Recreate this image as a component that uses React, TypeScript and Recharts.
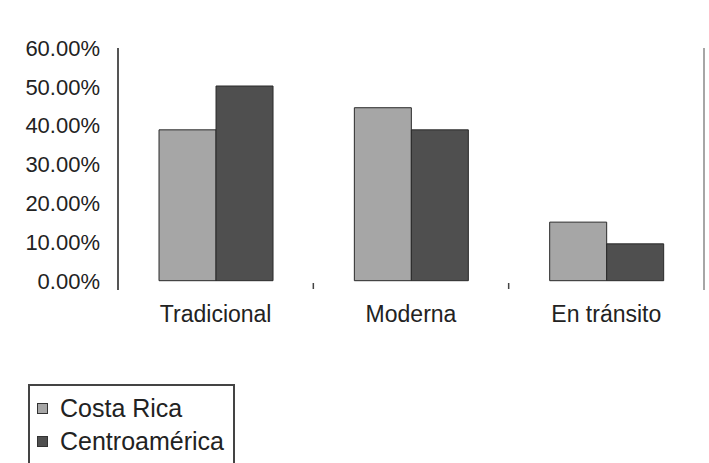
import { BarChart, Bar, XAxis, YAxis } from 'recharts';

// Shares by type of household
const categories = ['Tradicional', 'Moderna', 'En tránsito'];
const costaRica = [0.389, 0.446, 0.151];
const centroamerica = [0.502, 0.389, 0.095];
const yTicks = [0, 0.1, 0.2, 0.3, 0.4, 0.5, 0.6];

const series = [
  { key: 'costaRica', name: 'Costa Rica', color: '#a6a6a6' },
  { key: 'centroamerica', name: 'Centroamérica', color: '#4f4f4f' },
];

const data = categories.map((name, i) => ({
  name,
  costaRica: costaRica[i],
  centroamerica: centroamerica[i],
}));

const font = 'Arial, "Liberation Sans", sans-serif';
const LABEL_GAP = 16;

// category label plus the little mark Excel puts between categories
const CategoryTick = ({ x, y, payload, index }: any) => {
  const half = payload?.offset ?? 0;
  const axisY = y - LABEL_GAP;
  return (
    <g>
      <text
        x={x}
        y={y}
        dy="0.71em"
        textAnchor="middle"
        fill="#222"
        fontSize={23}
        fontFamily={font}
      >
        {payload.value}
      </text>
      {index < categories.length - 1 && (
        <line
          x1={x + half}
          x2={x + half}
          y1={axisY - 7}
          y2={axisY - 1}
          stroke="#444"
          strokeWidth={1.5}
        />
      )}
    </g>
  );
};

export default function App() {
  return (
    <div
      style={{
        position: 'absolute',
        left: 0,
        top: 0,
        width: 709,
        height: 463,
        background: '#fff',
        overflow: 'hidden',
        fontFamily: font,
      }}
    >
      <BarChart
        width={709}
        height={340}
        data={data}
        margin={{ top: 48, right: 4, left: 0, bottom: 10 }}
        barCategoryGap="21%"
        barGap={0}
      >
        <XAxis
          dataKey="name"
          axisLine={false}
          tickLine={false}
          tickSize={0}
          tickMargin={LABEL_GAP}
          height={40}
          interval={0}
          tick={<CategoryTick />}
        />
        <YAxis
          domain={[-0.024, 0.6]}
          ticks={yTicks}
          width={118}
          axisLine={{ stroke: '#555', strokeWidth: 2 }}
          tickLine={false}
          tickSize={0}
          tickMargin={18}
          tickFormatter={(v: number) => `${(v * 100).toFixed(2)}%`}
          tick={{ fill: '#222', fontSize: 22, fontFamily: font }}
        />
        <YAxis
          yAxisId="r"
          orientation="right"
          domain={[-0.024, 0.6]}
          width={1}
          tick={false}
          tickLine={false}
          axisLine={{ stroke: '#888', strokeWidth: 1.5 }}
        />
        {series.map((s) => (
          <Bar
            key={s.key}
            dataKey={s.key}
            name={s.name}
            fill={s.color}
            stroke="#2a2a2a"
            strokeWidth={1}
            isAnimationActive={false}
          />
        ))}
      </BarChart>
      <div
        style={{
          position: 'absolute',
          left: 28,
          top: 384,
          width: 203,
          height: 100,
          border: '2px solid #444',
          fontSize: 25,
          color: '#222',
        }}
      >
        {series.map((s, i) => (
          <div
            key={s.key}
            style={{
              position: 'absolute',
              left: 7,
              top: 7 + i * 33,
              display: 'flex',
              alignItems: 'center',
              whiteSpace: 'nowrap',
              lineHeight: '30px',
            }}
          >
            <span
              style={{
                display: 'inline-block',
                width: 9,
                height: 9,
                background: s.color,
                border: '1px solid #333',
                marginRight: 12,
              }}
            />
            {s.name}
          </div>
        ))}
      </div>
    </div>
  );
}
